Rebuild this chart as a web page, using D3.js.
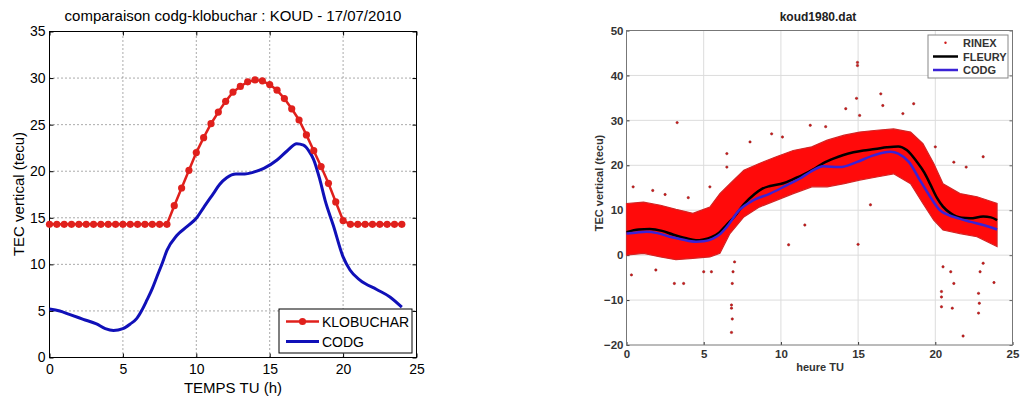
<!DOCTYPE html>
<html>
<head>
<meta charset="utf-8">
<title>comparaison codg-klobuchar / koud1980.dat</title>
<script src="https://d3js.org/d3.v7.min.js"></script>
<style>
  body { margin: 0; background: #fff; }
  svg { display: block; font-family: "Liberation Sans", Arial, sans-serif; }
</style>
</head>
<body>
<svg width="1020" height="399"></svg>
<script>
// ---------- données : panneau gauche (KOUD 17/07/2010) ----------
var kloTime = [0, 0.5, 1, 1.5, 2, 2.5, 3, 3.5, 4, 4.5, 5, 5.5, 6, 6.5, 7, 7.5, 8,
  8.5, 9, 9.5, 10, 10.5, 11, 11.5, 12, 12.5, 13, 13.5, 14, 14.5, 15, 15.5, 16,
  16.5, 17, 17.5, 18, 18.5, 19, 19.5, 20, 20.5, 21, 21.5, 22, 22.5, 23, 23.5, 24];
var kloTec = [14.3, 14.3, 14.3, 14.3, 14.3, 14.3, 14.3, 14.3, 14.3, 14.3, 14.3, 14.3, 14.3, 14.3, 14.3, 14.3, 14.3,
  16.3, 18.2, 20.1, 22.0, 23.6, 25.1, 26.35, 27.5, 28.5, 29.1, 29.6, 29.8, 29.7, 29.3, 28.7, 27.8,
  26.7, 25.5, 23.9, 22.2, 20.5, 18.7, 16.7, 14.7, 14.3, 14.3, 14.3, 14.3, 14.3, 14.3, 14.3, 14.3];

var codgTime = [0, 0.7, 1.4, 2.3, 3.2, 3.8, 4.36, 5.0, 5.5, 5.95, 6.3, 6.63, 7.0, 7.31, 7.7, 8.0,
  8.67, 9.4, 10.03, 10.5, 11.16, 11.6, 12.07, 12.7, 13.3, 13.9, 14.6, 15.5, 16.2, 16.84,
  17.3, 17.7, 17.98, 18.4, 18.77, 19.33, 20.0, 20.47, 21.15, 22.29, 23.19, 24.0];
var codgTec = [5.2, 5.0, 4.6, 4.1, 3.6, 3.1, 2.9, 3.1, 3.6, 4.2, 5.1, 6.15, 7.4, 8.65, 10.2, 11.5,
  13.1, 14.1, 15.0, 16.1, 17.6, 18.6, 19.3, 19.7, 19.7, 19.9, 20.3, 21.2, 22.2, 22.95,
  22.8, 22.1, 21.3, 19.2, 16.9, 14.2, 10.8, 9.4, 8.3, 7.3, 6.5, 5.4];

// ---------- données : panneau droit (koud1980.dat) ----------
var fleuryTime = [0, 0.8, 1.5, 2.3, 3.0, 3.8, 4.5, 5.0, 5.5, 6.0, 6.5, 7.0, 7.6, 8.3, 8.8, 9.3,
  10.15, 10.8, 11.45, 12.1, 12.75, 13.4, 14.05, 14.7, 15.35, 16.1, 16.86, 17.6, 18.15,
  18.8, 19.3, 19.67, 20.1, 20.5, 21.0, 21.7, 22.26, 23.1, 23.6, 24.0];
var fleuryTec = [5.1, 5.7, 5.8, 5.4, 4.6, 3.8, 3.3, 3.5, 4.0, 5.0, 6.8, 8.6, 11.3, 13.6, 14.8, 15.4,
  16.0, 16.9, 17.9, 19.1, 20.5, 21.5, 22.3, 22.9, 23.3, 23.6, 24.0, 24.2, 23.4,
  20.8, 18.3, 15.8, 12.8, 10.8, 9.3, 8.3, 8.2, 8.6, 8.4, 7.8];

var codgRTime = [0, 0.6, 1.3, 2.0, 2.8, 3.6, 4.5, 5.0, 5.6, 6.1, 6.5, 7.3, 8.2, 9.3, 10.4, 11.2,
  11.9, 12.75, 13.8, 14.9, 16.0, 17.1, 17.6, 18.3, 19.0, 19.67, 20.3, 21.2, 22.3, 23.1, 24.0];
var codgRTec = [4.8, 5.0, 5.2, 4.9, 4.1, 3.5, 3.0, 3.1, 3.7, 4.8, 6.3, 10.0, 12.2, 13.7, 15.6, 17.0,
  18.5, 19.8, 19.6, 20.7, 22.2, 23.0, 22.6, 20.7, 16.7, 13.0, 10.0, 8.5, 7.4, 6.7, 5.7];

// nuage RINEX : enveloppe de la bande dense
var rinexTime = [0, 1.1, 2.2, 3.2, 4.3, 5.4, 6.05, 6.7, 7.6, 8.6, 9.7, 10.8, 12.0, 13.0,
  14.1, 15.1, 16.2, 17.3, 18.4, 19.2, 19.9, 20.5, 21.6, 22.7, 24.0];
var rinexHigh = [11.5, 11.8, 11.1, 10.2, 9.3, 10.7, 13.7, 15.9, 18.9, 20.4, 21.9, 23.3, 24.1, 25.6,
  26.7, 27.4, 27.8, 28.1, 27.4, 24.8, 20.4, 15.9, 13.7, 13.0, 11.5];
var rinexLow = [0.0, 0.4, -0.4, -1.0, -0.7, -0.4, 0.4, 4.8, 8.5, 10.7, 12.2, 13.7, 15.2, 15.2,
  15.9, 16.7, 17.4, 18.1, 15.9, 11.5, 7.8, 5.6, 4.8, 4.1, 1.9];
// points isolés du nuage RINEX
var rinexOutT = [0.32, 1.9, 3.1, 3.7, 5.0, 5.5, 6.8, 6.8, 6.85, 6.8, 6.85, 6.9, 7.0, 10.5, 11.55,
  15.0, 15.8, 20.4, 20.4, 20.4, 21.1, 21.2, 21.8, 22.8, 22.8, 22.85, 23.8, 20.5, 21.0, 22.9, 23.1,
  14.96, 14.96, 14.9, 3.28, 16.47, 16.6, 18.6, 14.2, 15.1, 17.9, 6.5, 6.5, 8.0, 9.4, 10.1, 11.9,
  12.9, 23.1, 21.2, 22.0, 20.0, 0.43, 1.7, 5.4, 2.5, 4.0];
var rinexOutV = [-4.4, -3.3, -6.3, -6.3, -3.7, -3.7, -11.1, -11.8, -14.2, -17.2, -6.3, -3.7, -1.5, 2.3, 6.7,
  2.4, 11.2, -8.1, -9.3, -11.5, -11.8, -6.3, -18.0, -8.5, -12.9, -10.7, -6.1, -2.6, -3.7, -3.7, -1.8,
  42.9, 42.2, 34.9, 29.5, 35.9, 33.3, 33.7, 32.6, 31.1, 31.5, 22.6, 19.6, 25.2, 27.0, 26.3, 28.9,
  28.6, 21.9, 20.7, 19.6, 24.1, 15.2, 14.4, 15.2, 13.5, 12.8];

var xTicks = [0, 5, 10, 15, 20, 25];
var yTicksLeft = [0, 5, 10, 15, 20, 25, 30, 35];
var yTicksRight = [-20, -10, 0, 10, 20, 30, 40, 50];

var svg = d3.select("svg");

function zip(a, b) { return a.map(function(v, i) { return [v, b[i]]; }); }

// ================= panneau gauche =================
var xL = d3.scaleLinear().domain([0, 25]).range([49.5, 416.5]);
var yL = d3.scaleLinear().domain([0, 35]).range([357.5, 31.5]);
var gL = svg.append("g");

// grille pointillée
gL.selectAll(".vg").data(xTicks.slice(1, -1)).enter().append("line")
  .attr("x1", function(d) { return xL(d); }).attr("x2", function(d) { return xL(d); })
  .attr("y1", yL(0)).attr("y2", yL(35))
  .attr("stroke", "#444").attr("stroke-width", 0.9).attr("stroke-dasharray", "1,3");
gL.selectAll(".hg").data(yTicksLeft.slice(1, -1)).enter().append("line")
  .attr("y1", function(d) { return yL(d); }).attr("y2", function(d) { return yL(d); })
  .attr("x1", xL(0)).attr("x2", xL(25))
  .attr("stroke", "#444").attr("stroke-width", 0.9).attr("stroke-dasharray", "1,3");

// axes (graduations vers l'intérieur)
function styleAxis(g, size, color) {
  g.select(".domain").remove();
  g.selectAll("line").attr("stroke", color);
  g.selectAll("text").attr("fill", color).style("font-size", size + "px");
}
gL.append("g").attr("transform", "translate(0," + yL(0) + ")")
  .call(d3.axisBottom(xL).tickValues(xTicks).tickSize(-4).tickPadding(7).tickFormat(d3.format("d")))
  .call(styleAxis, 14, "#000");
gL.append("g").attr("transform", "translate(" + xL(0) + ",0)")
  .call(d3.axisLeft(yL).tickValues(yTicksLeft).tickSize(-4).tickPadding(4).tickFormat(d3.format("d")))
  .call(styleAxis, 14, "#000");
gL.append("g").attr("transform", "translate(0," + yL(35) + ")")
  .call(d3.axisTop(xL).tickValues(xTicks).tickSize(-4).tickFormat(""))
  .call(styleAxis, 14, "#000");
gL.append("g").attr("transform", "translate(" + xL(25) + ",0)")
  .call(d3.axisRight(yL).tickValues(yTicksLeft).tickSize(-4).tickFormat(""))
  .call(styleAxis, 14, "#000");
gL.append("rect").attr("x", xL(0)).attr("y", yL(35))
  .attr("width", xL(25) - xL(0)).attr("height", yL(0) - yL(35))
  .attr("fill", "none").attr("stroke", "#000").attr("stroke-width", 1);

var lineL = d3.line().x(function(d) { return xL(d[0]); }).y(function(d) { return yL(d[1]); });

gL.append("path").datum(zip(codgTime, codgTec))
  .attr("d", lineL.curve(d3.curveMonotoneX))
  .attr("fill", "none").attr("stroke", "#1010b8").attr("stroke-width", 3);

var kloData = zip(kloTime, kloTec);
gL.append("path").datum(kloData)
  .attr("d", lineL.curve(d3.curveLinear))
  .attr("fill", "none").attr("stroke", "#e0201c").attr("stroke-width", 2.5);
gL.selectAll(".klo").data(kloData).enter().append("circle")
  .attr("cx", function(d) { return xL(d[0]); })
  .attr("cy", function(d) { return yL(d[1]); })
  .attr("r", 3.6).attr("fill", "#e0201c");

gL.append("text").attr("x", 233).attr("y", 21).attr("text-anchor", "middle")
  .style("font-size", "15px").text("comparaison codg-klobuchar : KOUD - 17/07/2010");
gL.append("text").attr("x", 233).attr("y", 393).attr("text-anchor", "middle")
  .style("font-size", "15px").text("TEMPS TU (h)");
gL.append("text").attr("transform", "translate(24,194) rotate(-90)").attr("text-anchor", "middle")
  .style("font-size", "15px").text("TEC vertical (tecu)");

// légende gauche
var legL = gL.append("g");
legL.append("rect").attr("x", 279).attr("y", 309).attr("width", 133).attr("height", 44)
  .attr("fill", "#fff").attr("stroke", "#000");
legL.append("line").attr("x1", 286).attr("x2", 319).attr("y1", 321.5).attr("y2", 321.5)
  .attr("stroke", "#e0201c").attr("stroke-width", 2.5);
legL.append("circle").attr("cx", 302.5).attr("cy", 321.5).attr("r", 3.6).attr("fill", "#e0201c");
legL.append("text").attr("x", 322).attr("y", 326.5).style("font-size", "14px").text("KLOBUCHAR");
legL.append("line").attr("x1", 286).attr("x2", 319).attr("y1", 341.5).attr("y2", 341.5)
  .attr("stroke", "#1010b8").attr("stroke-width", 3);
legL.append("text").attr("x", 322).attr("y", 346.5).style("font-size", "14px").text("CODG");

// ================= panneau droit =================
var xR = d3.scaleLinear().domain([0, 25]).range([626.5, 1012.5]);
var yR = d3.scaleLinear().domain([-20, 50]).range([345, 30.5]);
var gR = svg.append("g");

gR.selectAll(".vg").data(xTicks.slice(1, -1)).enter().append("line")
  .attr("x1", function(d) { return xR(d); }).attr("x2", function(d) { return xR(d); })
  .attr("y1", yR(-20)).attr("y2", yR(50))
  .attr("stroke", "#dcdcdc").attr("stroke-width", 1);
gR.selectAll(".hg").data(yTicksRight.slice(1, -1)).enter().append("line")
  .attr("y1", function(d) { return yR(d); }).attr("y2", function(d) { return yR(d); })
  .attr("x1", xR(0)).attr("x2", xR(25))
  .attr("stroke", "#dcdcdc").attr("stroke-width", 1);

gR.append("g").attr("transform", "translate(0," + yR(-20) + ")")
  .call(d3.axisBottom(xR).tickValues(xTicks).tickSize(-3).tickPadding(5).tickFormat(d3.format("d")))
  .call(styleAxis, 11.5, "#333");
gR.append("g").attr("transform", "translate(" + xR(0) + ",0)")
  .call(d3.axisLeft(yR).tickValues(yTicksRight).tickSize(-3).tickPadding(3).tickFormat(d3.format("d")))
  .call(styleAxis, 11.5, "#333");
gR.append("g").attr("transform", "translate(" + xR(25) + ",0)")
  .call(d3.axisRight(yR).tickValues(yTicksRight).tickSize(-3).tickFormat(""))
  .call(styleAxis, 11, "#666");
gR.selectAll("text").style("font-weight", "bold");
gR.append("rect").attr("x", xR(0)).attr("y", yR(50))
  .attr("width", xR(25) - xR(0)).attr("height", yR(-20) - yR(50))
  .attr("fill", "none").attr("stroke", "#777").attr("stroke-width", 1);

// bande RINEX
var rinexBand = rinexTime.map(function(t, i) { return [t, rinexLow[i], rinexHigh[i]]; });
gR.append("path").datum(rinexBand)
  .attr("d", d3.area()
    .x(function(d) { return xR(d[0]); })
    .y0(function(d) { return yR(d[1]); })
    .y1(function(d) { return yR(d[2]); }))
  .attr("fill", "#ff0a0a").attr("stroke", "#d42424").attr("stroke-width", 1.2);

gR.selectAll(".out").data(zip(rinexOutT, rinexOutV)).enter().append("circle")
  .attr("cx", function(d) { return xR(d[0]); })
  .attr("cy", function(d) { return yR(d[1]); })
  .attr("r", 1.2).attr("fill", "#d01818").attr("stroke", "#8a2020").attr("stroke-width", 0.5);

var lineR = d3.line().curve(d3.curveMonotoneX)
  .x(function(d) { return xR(d[0]); }).y(function(d) { return yR(d[1]); });
gR.append("path").datum(zip(fleuryTime, fleuryTec)).attr("d", lineR)
  .attr("fill", "none").attr("stroke", "#000").attr("stroke-width", 2.5);
gR.append("path").datum(zip(codgRTime, codgRTec)).attr("d", lineR)
  .attr("fill", "none").attr("stroke", "#3a22d6").attr("stroke-width", 2.5);

gR.append("text").attr("x", 818).attr("y", 21).attr("text-anchor", "middle")
  .style("font-size", "12px").style("font-weight", "bold").attr("fill", "#222").text("koud1980.dat");
gR.append("text").attr("x", 820).attr("y", 371).attr("text-anchor", "middle")
  .style("font-size", "11px").style("font-weight", "bold").attr("fill", "#333").text("heure TU");
gR.append("text").attr("transform", "translate(603,183) rotate(-90)").attr("text-anchor", "middle")
  .style("font-size", "11px").style("font-weight", "bold").attr("fill", "#333").text("TEC vertical (tecu)");

// légende droite
var legR = gR.append("g");
legR.append("rect").attr("x", 928).attr("y", 35).attr("width", 80).attr("height", 43)
  .attr("fill", "#fff").attr("stroke", "#888");
legR.append("circle").attr("cx", 945.5).attr("cy", 42.7).attr("r", 1.2).attr("fill", "#d01818");
legR.append("text").attr("x", 963).attr("y", 46.7).style("font-size", "11px").style("font-weight", "bold")
  .attr("fill", "#333").text("RINEX");
legR.append("line").attr("x1", 933).attr("x2", 958).attr("y1", 56.5).attr("y2", 56.5)
  .attr("stroke", "#000").attr("stroke-width", 2.5);
legR.append("text").attr("x", 963).attr("y", 60.5).style("font-size", "11px").style("font-weight", "bold")
  .attr("fill", "#333").text("FLEURY");
legR.append("line").attr("x1", 933).attr("x2", 958).attr("y1", 70).attr("y2", 70)
  .attr("stroke", "#3a22d6").attr("stroke-width", 2.5);
legR.append("text").attr("x", 963).attr("y", 74).style("font-size", "11px").style("font-weight", "bold")
  .attr("fill", "#333").text("CODG");
</script>
</body>
</html>
